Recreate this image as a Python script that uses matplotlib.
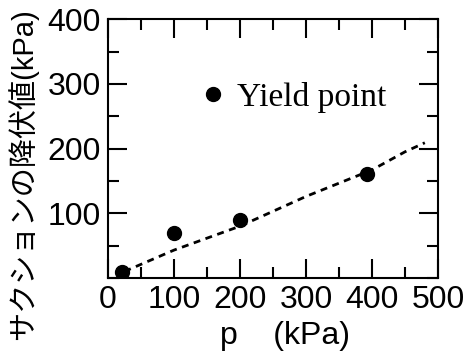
import matplotlib
matplotlib.use("Agg")
import matplotlib.pyplot as plt
from matplotlib.ticker import MultipleLocator

plt.rcParams['font.family'] = ['Liberation Sans', 'Noto Sans CJK JP', 'DejaVu Sans']

# yield points
p = [22, 100, 200, 392]
suction = [9, 70, 90, 160]

# dashed trend line
line_p = [25, 100, 200, 300, 400, 450, 480]
line_s = [10, 43, 80, 126, 167, 195, 209]

fig = plt.figure(figsize=(4.67, 3.55), dpi=100)
ax = fig.add_axes([0.231, 0.217, 0.707, 0.729])

ax.plot(line_p, line_s, color='black', linestyle=(0, (2.5, 2.0)), linewidth=2.0)
ax.plot(p, suction, 'o', color='black', markersize=10, label='Yield point')

ax.set_xlim(0, 500)
ax.set_ylim(0, 400)
ax.set_xticks([0, 100, 200, 300, 400, 500])
ax.set_yticks([100, 200, 300, 400])
ax.xaxis.set_minor_locator(MultipleLocator(50))
ax.yaxis.set_minor_locator(MultipleLocator(50))

ax.tick_params(which='both', direction='in', top=True, right=True, width=1.5)
ax.tick_params(which='major', length=14, labelsize=23, pad=5)
ax.tick_params(which='minor', length=8)
for s in ax.spines.values():
    s.set_linewidth(1.5)

ax.set_xlabel('p    (kPa)', fontsize=23)
ax.xaxis.set_label_coords(0.536, -0.165)
ax.set_ylabel('サクションの降伏値(kPa)', fontsize=21)
ax.yaxis.set_label_coords(-0.21, 0.40)

ax.legend(loc='center left', bbox_to_anchor=(0.276, 0.699), frameon=False,
          prop={'family': 'Liberation Serif', 'size': 24},
          handlelength=0.85, handletextpad=0.3, borderpad=0, borderaxespad=0)

fig.savefig('out.png', dpi=100)
